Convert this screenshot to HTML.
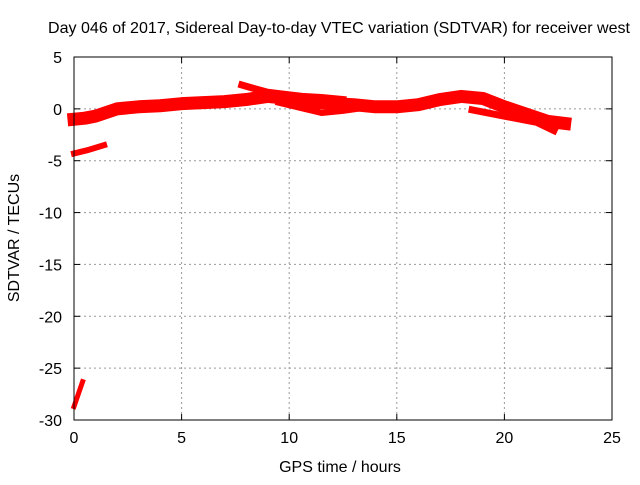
<!DOCTYPE html>
<html><head><meta charset="utf-8"><style>
body{margin:0;background:#fff}
svg text{font-family:"Liberation Sans",sans-serif;font-size:16px;fill:#000}
</style></head><body>
<svg width="640" height="480">
<g id="grid"></g>
<g id="series"></g>
<rect x="74" y="57" width="538" height="363" fill="none" stroke="#000" stroke-width="1"/>
<g id="ticks"></g>
<text x="48" y="33" textLength="582" lengthAdjust="spacingAndGlyphs">Day 046 of 2017, Sidereal Day-to-day VTEC variation (SDTVAR) for receiver west</text>
<text x="340" y="472" text-anchor="middle">GPS time / hours</text>
<text transform="translate(19,238) rotate(-90)" text-anchor="middle">SDTVAR / TECUs</text>
</svg>
<script>
const xTicks=[0,5,10,15,20,25];
const yTicks=[5,0,-5,-10,-15,-20,-25,-30];
const mainT=[0,0.5,1,2,3,4,5,6,7,8,9,10,11,12,13,14,15,16,17,18,19,20,21,22,22.8];
const mainV=[-1,-0.9,-0.7,0,0.2,0.3,0.5,0.6,0.7,0.9,1.2,1.0,0.6,0.5,0.4,0.2,0.2,0.4,0.9,1.2,1.0,0.2,-0.5,-1.2,-1.4];
const upperT=[7.8,8.3,9,9.8,10.6,11.5,12.5];
const upperV=[2.3,2.0,1.6,1.4,1.2,1.1,0.9];
const lowerT=[9.5,10.5,11.5,12.5,13.5];
const lowerV=[0.6,0.1,-0.4,-0.2,0.1];
const lower2T=[18.5,19.5,20.5,21.5,22.3];
const lower2V=[-0.1,-0.5,-0.9,-1.3,-2.1];
const seg2T=[0,0.6,1.4];
const seg2V=[-4.3,-4.0,-3.5];
const seg3T=[0,0.2,0.4];
const seg3V=[-28.7,-27.5,-26.3];
const X=t=>74+t*(538/25), Y=v=>57+(5-v)*(363/35);
const NS='http://www.w3.org/2000/svg';
const grid=document.getElementById('grid'),ticks=document.getElementById('ticks'),ser=document.getElementById('series');
function mk(tag,attrs,parent){const e=document.createElementNS(NS,tag);for(const k in attrs)e.setAttribute(k,attrs[k]);parent.appendChild(e);return e;}
xTicks.forEach(t=>{const x=X(t);
 if(t>0&&t<25){const l=mk('line',{x1:x,x2:x,y1:57,y2:420,stroke:'#999','stroke-dasharray':'2,3'},grid);
 
 }
 mk('line',{x1:x,x2:x,y1:420,y2:414,stroke:'#000'},ticks);mk('line',{x1:x,x2:x,y1:57,y2:63,stroke:'#000'},ticks);
 const tx=mk('text',{x:x,y:443,'text-anchor':'middle'},ticks);tx.textContent=t;
 
 });
yTicks.forEach(v=>{const y=Y(v);
 if(v<5&&v>-30){const l=mk('line',{x1:74,x2:612,y1:y,y2:y,stroke:'#999','stroke-dasharray':'2,3'},grid);
 
 }
 mk('line',{x1:74,x2:80,y1:y,y2:y,stroke:'#000'},ticks);mk('line',{x1:612,x2:606,y1:y,y2:y,stroke:'#000'},ticks);
 const tx=mk('text',{x:62,y:y+6,'text-anchor':'end'},ticks);tx.textContent=v;
 
 });
function draw(T,V,w,name){const p=mk('polyline',{points:T.map((t,i)=>X(t)+','+Y(V[i])).join(' '),fill:'none',stroke:'#f00','stroke-width':w,'stroke-linejoin':'round','stroke-linecap':'square'},ser);
 
 }
draw(mainT,mainV,13,'main-band');
draw(upperT,upperV,7,'upper-branch');
draw(lowerT,lowerV,6,'lower-branch');
draw(lower2T,lower2V,7,'late-lower-branch');
draw(seg2T,seg2V,6,'early-segment');
draw(seg3T,seg3V,5,'start-segment');
</script>
</body></html>
